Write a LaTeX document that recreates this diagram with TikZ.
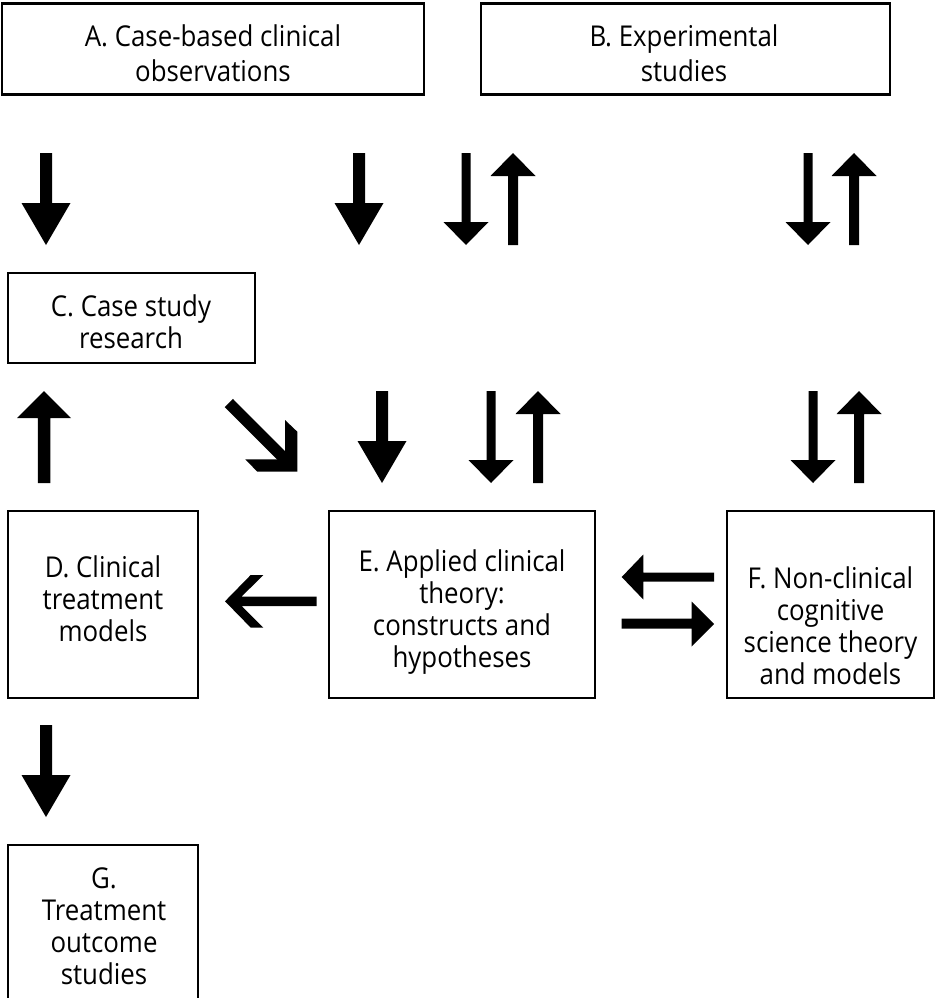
\documentclass[tikz,border=0pt]{standalone}
\usepackage{fontspec}
\setmainfont{Open Sans}[FakeStretch=0.9]
\tikzset{
  box/.style={draw=black, line width=2.2pt, inner sep=0pt, outer sep=0pt},
  lbl/.style={anchor=north, inner sep=0pt, align=center, font=\fontsize{28.7pt}{32pt}\selectfont},
  lblwide/.style={lbl, font=\fontsize{28.7pt}{35pt}\selectfont},
  pics/bigdown/.style={code={\fill (-6,0) -- (6,0) -- (6,50) -- (24.5,50) -- (0,92) -- (-24.5,50) -- (-6,50) -- cycle;}},
  pics/thindown/.style={code={\fill (-4.5,0) -- (4.5,0) -- (4.5,69) -- (22.5,69) -- (0,92) -- (-22.5,69) -- (-4.5,69) -- cycle;}},
  pics/thinup/.style={code={\fill (0,0) -- (22.5,23) -- (5,23) -- (5,92) -- (-5,92) -- (-5,23) -- (-22.5,23) -- cycle;}},
  pics/bigup/.style={code={\fill (0,0) -- (27,27) -- (6.25,27) -- (6.25,92) -- (-6.25,92) -- (-6.25,27) -- (-27,27) -- cycle;}},
}
\newcommand{\fl}{\rule{0pt}{23pt}}
\begin{document}
\begin{tikzpicture}[x=1pt, y=-1pt]
\useasboundingbox[fill=white] (0,0) rectangle (936,998);
% boxes
\node[box, minimum width=422pt, minimum height=91pt] (A) at (213,49) {};
\node[box, minimum width=409pt, minimum height=91pt] (B) at (685.5,49) {};
\node[box, minimum width=247pt, minimum height=90pt] (C) at (131.5,318) {};
\node[box, minimum width=190pt, minimum height=187pt] (D) at (103,604.5) {};
\node[box, minimum width=266pt, minimum height=187pt] (E) at (462,604.5) {};
\node[box, minimum width=207pt, minimum height=187pt] (F) at (830.5,604.5) {};
\node[box, minimum width=190pt, minimum height=165pt] (G) at (103,927.5) {};
% labels
\node[lblwide] (At) at (213,23.7) {\fl A. Case-based clinical\\observations};
\node[lblwide] (Bt) at (684,23.7) {\fl B. Experimental\\studies};
\node[lbl] (Ct) at (131,293.7) {\fl C. Case study\\research};
\node[lbl] (Dt) at (103,554.3) {\fl D. Clinical\\treatment\\models};
\node[lbl] (Et) at (462,548) {\fl E. Applied clinical\\theory:\\constructs and\\hypotheses};
\node[lbl] (Ft) at (830.5,565) {\fl F. Non-clinical\\cognitive\\science theory\\and models};
\node[lbl] (Gt) at (104,865) {\fl G.\\Treatment\\outcome\\studies};
% arrow positions
\coordinate (r1a) at (46,153);
\coordinate (r1b) at (359,153);
\coordinate (r1c) at (466,153);
\coordinate (r1d) at (513,153);
\coordinate (r1e) at (808,153);
\coordinate (r1f) at (854,153);
\coordinate (r2a) at (44,391);
\coordinate (r2b) at (382,391);
\coordinate (r2c) at (491,391);
\coordinate (r2d) at (538,391);
\coordinate (r2e) at (813,391);
\coordinate (r2f) at (859,391);
\coordinate (r3a) at (46,725);
% row 1
\pic at (r1a) {bigdown};
\pic at (r1b) {bigdown};
\pic at (r1c) {thindown};
\pic at (r1d) {thinup};
\pic at (r1e) {thindown};
\pic at (r1f) {thinup};
% row 2
\pic at (r2a) {bigup};
\pic at (r2b) {bigdown};
\pic at (r2c) {thindown};
\pic at (r2d) {thinup};
\pic at (r2e) {thindown};
\pic at (r2f) {thinup};
% diagonal arrow C -> E
\coordinate (dg1) at (228.8,403);
\coordinate (dg2) at (287,461.3);
\draw[line width=11.6pt] (dg1) -- (dg2);
\fill (285,420) -- (297.3,431.7) -- (297.3,471.7) -- (257.3,471.7) -- (245.3,459.3) -- (285,459.3) -- cycle;
% E -> D chevron arrow
\fill (225,601.3) -- (250.7,575) -- (263.3,575) -- (241.5,596.7) -- (316.7,596.7) -- (316.7,606) -- (241.5,606) -- (263.3,627.6) -- (250.7,627.6) -- cycle;
% F -> E
\fill (621.7,577) -- (643.3,554.5) -- (643.3,572.5) -- (714,572.5) -- (714,581.5) -- (643.3,581.5) -- (643.3,599.5) -- cycle;
% E -> F
\fill (714,624) -- (691.7,601.5) -- (691.7,618.5) -- (621.7,618.5) -- (621.7,628.5) -- (691.7,628.5) -- (691.7,646.5) -- cycle;
% row 3
\pic at (r3a) {bigdown};
\end{tikzpicture}
\end{document}
